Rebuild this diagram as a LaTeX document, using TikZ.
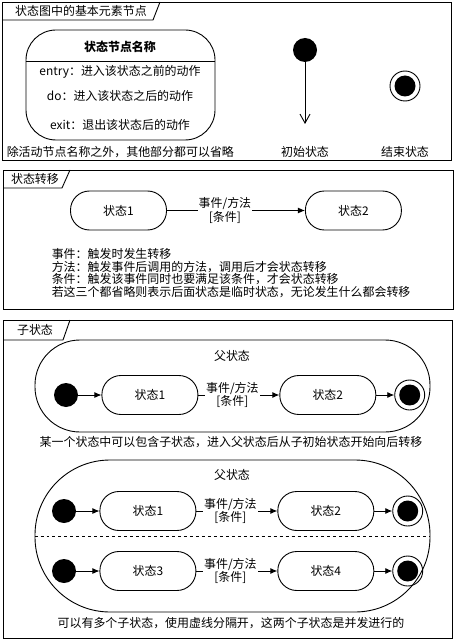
\documentclass[tikz,border=0pt]{standalone}
\usepackage{fontspec}
\setmainfont{Noto Sans CJK SC}
\usepackage{tikz}
\usetikzlibrary{arrows.meta,positioning}
\tikzset{
  frame/.style={draw, line width=0.9bp},
  stnode/.style={draw, rounded corners=19bp, minimum width=96bp, minimum height=39bp, inner sep=0},
  parent/.style={draw, inner sep=0},
  initst/.style={circle, fill=black, minimum size=24bp, inner sep=0},
  finalst/.style={circle, draw, minimum size=30bp, inner sep=0,
    path picture={\fill (path picture bounding box.center) circle (10.5bp);}},
  translbl/.style={fill=white, align=center, inner sep=1bp, font=\fontsize{12}{11.5}\selectfont},
  openarrow/.style={-{Straight Barb[length=9bp,width=10bp]}}
}

\begin{document}
\begin{tikzpicture}[x=1bp, y=-1bp, >={Latex[length=7bp,width=6bp]}, line width=0.9bp, font=\fontsize{12}{14}\selectfont]
  \useasboundingbox (0,0) rectangle (456,641);

  % basic elements
  \draw[frame] (2,2) rectangle (451,160);
  \draw[frame] (2,20) -- (153,20) -- (160,2);
  \node (tab1) at (81,11) {状态图中的基本元素节点};
  \node[draw, rounded corners=30bp, minimum width=189bp, minimum height=110bp] (stbox) at (120.5,85) {};
  \draw ([yshift=-32bp]stbox.north west) -- ([yshift=-32bp]stbox.north east);
  \node (sttitle) at (120,47) {\bfseries 状态节点名称};
  \node (entry) at (120,72) {entry：进入该状态之前的动作};
  \node (do) at (120,96) {do：进入该状态之后的动作};
  \node (exit) at (120,125) {exit：退出该状态后的动作};
  \node[anchor=west] (omit) at (3,152) {除活动节点名称之外，其他部分都可以省略};
  \node[initst] (ini) at (305,50) {};
  \coordinate (iniend) at (305,124);
  \draw[openarrow] (ini) -- (iniend);
  \node (inilbl) at (305,152) {初始状态};
  \node[finalst] (fin) at (405,86) {};
  \node (finlbl) at (405,152) {结束状态};

  % transition
  \draw[frame] (3,170) rectangle (453,309);
  \draw[frame] (3,188) -- (62,188) -- (70,170);
  \node (tab2) at (35,179) {状态转移};
  \node[stnode] (ta) at (118.5,210.5) {状态1};
  \node[stnode, right=138bp of ta] (tb) {状态2};
  \draw[->] (ta) -- node[translbl, pos=0.42] {事件/方法\\{}[条件]} (tb);
  \node[anchor=north west, align=left, font=\fontsize{12}{12.5}\selectfont] (notes) at (48,245)
    {事件：触发时发生转移\\
     方法：触发事件后调用的方法，调用后才会状态转移\\
     条件：触发该事件同时也要满足该条件，才会状态转移\\
     若这三个都省略则表示后面状态是临时状态，无论发生什么都会转移};

  % sub states
  \draw[frame] (3,320) rectangle (452,638);
  \draw[frame] (3,340) -- (63,340) -- (70,320);
  \node (tab3) at (35,330) {子状态};
  \node[parent, minimum width=395bp, minimum height=92bp, rounded corners=45bp] (pa) at (232.5,386) {};
  \node (paname) at (232,356) {父状态};
  \node[initst] (pa0) at (66,395) {};
  \node[stnode, right=23bp of pa0] (pa1) {状态1};
  \node[stnode, right=81bp of pa1] (pa2) {状态2};
  \node[finalst, right=18bp of pa2] (pa3) {};
  \draw[->] (pa0) -- (pa1);
  \draw[->] (pa1) -- node[translbl, pos=0.42] {事件/方法\\{}[条件]} (pa2);
  \draw[->] (pa2) -- (pa3);
  \node (panote) at (231,442) {某一个状态中可以包含子状态，进入父状态后从子初始状态开始向后转移};

  \node[parent, minimum width=395bp, minimum height=152bp, rounded corners=75bp] (pb) at (232.5,536) {};
  \node (pbname) at (232,475) {父状态};
  \draw[dashed] (pb.west) -- (pb.east);
  \foreach \rowy/\sa/\sb/\rn in {511/1/2/pu, 571/3/4/pl} {
    \node[initst] (\rn0) at (64,\rowy) {};
    \node[stnode, right=23bp of \rn0] (\rn1) {状态\sa};
    \node[stnode, right=81bp of \rn1] (\rn2) {状态\sb};
    \node[finalst, right=18bp of \rn2] (\rn3) {};
    \draw[->] (\rn0) -- (\rn1);
    \draw[->] (\rn1) -- node[translbl, pos=0.42] {事件/方法\\{}[条件]} (\rn2);
    \draw[->] (\rn2) -- (\rn3);
  }
  \node (pbnote) at (231,623) {可以有多个子状态，使用虚线分隔开，这两个子状态是并发进行的};
\end{tikzpicture}
\end{document}
